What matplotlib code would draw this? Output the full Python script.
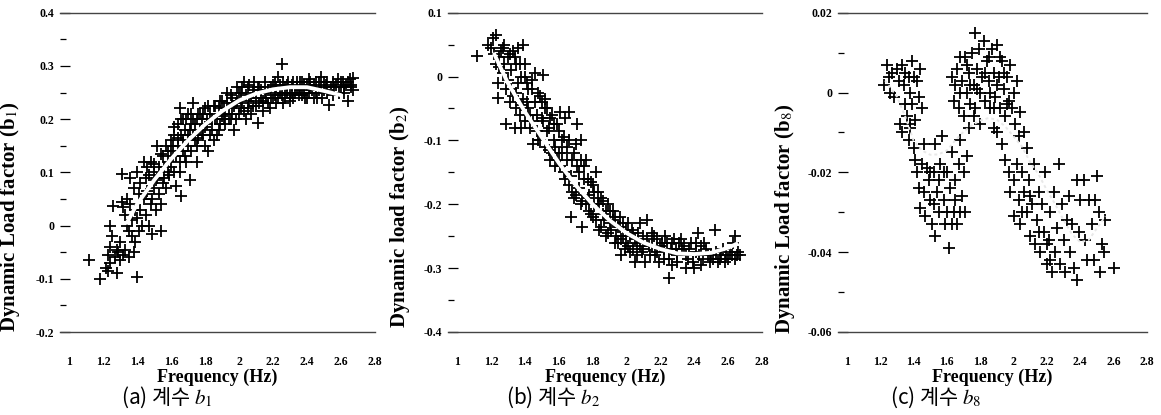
import numpy as np
import matplotlib
matplotlib.use("Agg")
import matplotlib.pyplot as plt
from matplotlib.ticker import MultipleLocator

plt.rcParams['mathtext.fontset'] = 'stix'

# (a) b1 : measured points (frequency, factor)
pts_b1 = [
    (1.12, -0.065), (1.18, -0.10), (1.22, -0.08), (1.23, -0.085), (1.23, -0.055), (1.24, -0.07),
    (1.24, -0.04), (1.25, -0.02), (1.24, 0.0), (1.26, 0.036), (1.27, -0.06), (1.28, -0.045),
    (1.28, -0.09), (1.29, -0.05), (1.30, -0.03), (1.30, -0.065), (1.31, 0.045), (1.31, 0.097),
    (1.32, 0.035), (1.32, -0.055), (1.33, 0.02), (1.33, -0.045), (1.34, 0.05), (1.34, 0.0),
    (1.35, -0.01), (1.35, -0.06), (1.36, 0.09), (1.36, 0.04), (1.37, -0.02), (1.37, 0.01),
    (1.38, 0.07), (1.38, -0.05), (1.39, 0.03), (1.39, -0.03), (1.40, -0.097), (1.40, 0.1),
    (1.40, 0.015), (1.41, 0.06), (1.41, -0.01), (1.42, 0.08), (1.42, 0.03), (1.43, 0.0),
    (1.44, 0.12), (1.44, 0.05), (1.45, 0.09), (1.45, 0.02), (1.46, 0.11), (1.46, 0.065),
    (1.47, 0.0), (1.48, 0.12), (1.48, 0.04), (1.49, -0.015), (1.50, 0.1), (1.50, 0.07),
    (1.51, 0.03), (1.52, 0.15), (1.52, 0.09), (1.53, 0.06), (1.54, -0.01), (1.54, 0.04),
    (1.55, 0.13), (1.55, 0.08), (1.56, 0.11), (1.57, 0.15), (1.57, 0.07), (1.58, 0.12),
    (1.59, 0.095), (1.60, 0.16), (1.60, 0.14), (1.61, 0.13), (1.62, 0.17), (1.62, 0.1),
    (1.63, 0.075), (1.64, 0.19), (1.64, 0.15), (1.65, 0.22), (1.65, 0.12), (1.66, 0.055),
    (1.66, 0.17), (1.67, 0.2), (1.67, 0.14), (1.68, 0.18), (1.69, 0.12), (1.70, 0.21),
    (1.70, 0.17), (1.71, 0.085), (1.72, 0.19), (1.72, 0.14), (1.73, 0.23), (1.73, 0.2),
    (1.74, 0.16), (1.75, 0.12), (1.76, 0.21), (1.77, 0.18), (1.78, 0.2), (1.79, 0.17),
    (1.80, 0.22), (1.80, 0.15), (1.81, 0.19), (1.82, 0.14), (1.83, 0.21), (1.84, 0.18),
    (1.85, 0.225), (1.86, 0.2), (1.87, 0.17), (1.88, 0.22), (1.89, 0.19), (1.90, 0.235),
    (1.91, 0.2), (1.92, 0.21), (1.93, 0.25), (1.94, 0.22), (1.95, 0.2), (1.96, 0.24),
    (1.97, 0.18), (1.98, 0.23), (1.99, 0.26), (2.00, 0.21), (2.01, 0.25), (2.02, 0.23),
    (2.03, 0.27), (2.04, 0.2), (2.05, 0.26), (2.06, 0.235), (2.07, 0.21), (2.08, 0.25),
    (2.09, 0.27), (2.10, 0.225), (2.11, 0.192), (2.12, 0.26), (2.13, 0.24), (2.14, 0.215),
    (2.15, 0.25), (2.17, 0.23), (2.19, 0.26), (2.20, 0.24), (2.21, 0.27), (2.22, 0.23),
    (2.23, 0.28), (2.24, 0.25), (2.25, 0.303), (2.26, 0.27), (2.27, 0.24), (2.28, 0.265),
    (2.30, 0.235), (2.31, 0.25), (2.32, 0.27), (2.34, 0.26), (2.36, 0.27), (2.37, 0.245),
    (2.38, 0.265), (2.40, 0.24), (2.41, 0.275), (2.42, 0.26), (2.44, 0.24), (2.45, 0.27),
    (2.47, 0.255), (2.48, 0.28), (2.49, 0.24), (2.50, 0.27), (2.51, 0.265), (2.52, 0.25),
    (2.53, 0.227), (2.55, 0.27), (2.56, 0.26), (2.58, 0.275), (2.60, 0.26), (2.61, 0.27),
    (2.62, 0.25), (2.63, 0.265), (2.64, 0.234), (2.65, 0.275), (2.66, 0.26), (2.67, 0.278),
    (2.67, 0.255),
    (1.45, 0.06), (1.47, 0.095), (1.49, 0.05), (1.5, 0.115), (1.51, 0.085), (1.53, 0.11),
    (1.54, 0.135), (1.56, 0.09), (1.58, 0.14), (1.58, 0.1), (1.6, 0.11), (1.61, 0.15),
    (1.62, 0.185), (1.63, 0.13), (1.64, 0.165), (1.65, 0.1), (1.66, 0.2), (1.67, 0.16),
    (1.68, 0.13), (1.69, 0.2), (1.7, 0.15), (1.71, 0.18), (1.72, 0.21), (1.73, 0.17),
    (1.74, 0.19), (1.75, 0.2), (1.75, 0.15), (1.76, 0.165), (1.77, 0.21), (1.78, 0.17),
    (1.79, 0.21), (1.8, 0.185), (1.81, 0.2), (1.82, 0.225), (1.83, 0.17), (1.84, 0.2),
    (1.85, 0.16), (1.86, 0.225), (1.87, 0.2), (1.88, 0.18), (1.89, 0.235), (1.9, 0.205),
    (1.91, 0.22), (1.92, 0.19), (1.93, 0.23), (1.94, 0.2), (1.95, 0.245), (1.96, 0.21),
    (1.97, 0.225), (1.98, 0.2), (1.99, 0.235), (2.0, 0.25), (2.01, 0.22), (2.02, 0.26),
    (2.03, 0.215), (2.04, 0.245), (2.05, 0.22), (2.06, 0.265), (2.07, 0.24), (2.08, 0.225),
    (2.09, 0.255), (2.1, 0.24), (2.11, 0.26), (2.12, 0.23), (2.13, 0.255), (2.14, 0.235),
    (2.15, 0.27), (2.16, 0.24), (2.17, 0.255), (2.18, 0.22), (2.19, 0.24), (2.2, 0.265),
    (2.21, 0.245), (2.22, 0.26), (2.23, 0.24), (2.24, 0.265), (2.25, 0.245), (2.26, 0.23),
    (2.27, 0.26), (2.28, 0.25), (2.29, 0.27), (2.3, 0.245), (2.31, 0.265), (2.32, 0.24),
    (2.33, 0.25), (2.34, 0.27), (2.35, 0.245), (2.36, 0.255), (2.37, 0.27), (2.38, 0.25),
    (2.39, 0.24), (2.4, 0.265), (2.41, 0.25), (2.42, 0.27), (2.43, 0.255), (2.44, 0.265),
    (2.45, 0.25), (2.46, 0.24), (2.47, 0.27), (2.48, 0.26), (2.5, 0.255), (2.52, 0.27),
    (2.54, 0.26), (2.55, 0.245), (2.57, 0.265), (2.59, 0.25), (2.6, 0.27), (2.62, 0.26),
    (2.64, 0.27), (2.66, 0.265),
]
fit_b1_x = [1.34, 1.4, 1.5, 1.6, 1.7, 1.8, 1.9, 2.0, 2.1, 2.2, 2.3, 2.4, 2.5, 2.6]
fit_b1_y = [0.005, 0.04, 0.085, 0.125, 0.16, 0.19, 0.215, 0.235, 0.248, 0.256, 0.26, 0.26, 0.253, 0.245]

# (b) b2
pts_b2 = [
    (1.12, 0.032), (1.18, 0.05), (1.2, 0.045), (1.21, 0.06), (1.22, 0.035), (1.23, 0.065),
    (1.23, 0.02), (1.24, -0.01), (1.24, -0.033), (1.25, 0.015), (1.26, 0.04), (1.27, 0.005),
    (1.28, 0.05), (1.29, -0.02), (1.29, -0.075), (1.30, 0.03), (1.31, -0.04), (1.32, 0.01),
    (1.33, 0.04), (1.33, -0.03), (1.34, -0.08), (1.35, 0.02), (1.35, -0.05), (1.36, 0.045),
    (1.36, -0.01), (1.37, -0.06), (1.38, 0.0), (1.38, -0.08), (1.39, 0.05), (1.39, -0.035),
    (1.40, 0.02), (1.40, -0.07), (1.41, -0.01), (1.42, -0.05), (1.43, -0.08), (1.44, -0.02),
    (1.45, -0.105), (1.46, 0.005), (1.47, -0.06), (1.48, -0.1), (1.49, -0.03), (1.50, -0.065),
    (1.51, 0.003), (1.52, -0.035), (1.52, -0.11), (1.53, -0.05), (1.54, -0.08), (1.55, -0.13),
    (1.56, -0.06), (1.57, -0.1), (1.58, -0.14), (1.59, -0.075), (1.60, -0.12), (1.61, -0.055),
    (1.62, -0.1), (1.63, -0.15), (1.64, -0.065), (1.65, -0.11), (1.66, -0.17), (1.66, -0.055),
    (1.67, -0.22), (1.68, -0.13), (1.69, -0.19), (1.70, -0.105), (1.71, -0.075), (1.72, -0.15),
    (1.73, -0.2), (1.73, -0.1), (1.74, -0.235), (1.75, -0.16), (1.76, -0.13), (1.77, -0.19),
    (1.78, -0.21), (1.79, -0.165), (1.80, -0.22), (1.81, -0.18), (1.82, -0.15), (1.83, -0.2),
    (1.84, -0.24), (1.85, -0.19), (1.86, -0.215), (1.88, -0.25), (1.89, -0.2), (1.90, -0.23),
    (1.92, -0.21), (1.93, -0.26), (1.95, -0.235), (1.96, -0.22), (1.97, -0.28), (1.98, -0.25),
    (2.0, -0.26), (2.01, -0.23), (2.02, -0.275), (2.04, -0.245), (2.05, -0.29), (2.06, -0.26),
    (2.08, -0.23), (2.09, -0.275), (2.10, -0.25), (2.11, -0.29), (2.12, -0.225), (2.13, -0.265),
    (2.15, -0.245), (2.17, -0.28), (2.18, -0.255), (2.20, -0.265), (2.22, -0.285), (2.23, -0.25),
    (2.25, -0.315), (2.26, -0.27), (2.27, -0.295), (2.28, -0.255), (2.30, -0.28), (2.31, -0.26),
    (2.33, -0.27), (2.35, -0.3), (2.36, -0.285), (2.38, -0.26), (2.40, -0.3), (2.41, -0.275),
    (2.42, -0.245), (2.44, -0.265), (2.45, -0.285), (2.47, -0.27), (2.49, -0.29), (2.50, -0.28),
    (2.52, -0.24), (2.53, -0.275), (2.55, -0.285), (2.57, -0.27), (2.59, -0.28), (2.61, -0.275),
    (2.63, -0.26), (2.64, -0.25), (2.65, -0.28), (2.67, -0.28),
    (1.25, 0.03), (1.27, 0.045), (1.28, 0.02), (1.3, -0.005), (1.31, 0.035), (1.32, -0.02),
    (1.34, 0.03), (1.35, -0.025), (1.37, 0.02), (1.38, -0.045), (1.4, 0.0), (1.41, -0.04),
    (1.42, -0.02), (1.43, -0.06), (1.44, -0.005), (1.45, -0.07), (1.46, -0.04), (1.47, -0.085),
    (1.48, -0.025), (1.49, -0.1), (1.5, -0.04), (1.51, -0.07), (1.52, -0.05), (1.53, -0.085),
    (1.54, -0.115), (1.55, -0.065), (1.56, -0.12), (1.57, -0.075), (1.58, -0.11), (1.59, -0.13),
    (1.6, -0.085), (1.61, -0.14), (1.62, -0.12), (1.63, -0.095), (1.64, -0.16), (1.65, -0.13),
    (1.66, -0.1), (1.67, -0.155), (1.68, -0.18), (1.69, -0.12), (1.7, -0.185), (1.71, -0.14),
    (1.72, -0.175), (1.73, -0.13), (1.74, -0.195), (1.75, -0.14), (1.76, -0.2), (1.77, -0.16),
    (1.78, -0.185), (1.79, -0.215), (1.8, -0.17), (1.81, -0.2), (1.82, -0.225), (1.83, -0.18),
    (1.84, -0.2), (1.85, -0.235), (1.86, -0.195), (1.87, -0.225), (1.88, -0.21), (1.89, -0.245),
    (1.9, -0.21), (1.91, -0.24), (1.92, -0.225), (1.93, -0.22), (1.94, -0.25), (1.95, -0.26),
    (1.96, -0.235), (1.97, -0.255), (1.98, -0.23), (1.99, -0.27), (2.0, -0.24), (2.01, -0.265),
    (2.02, -0.25), (2.03, -0.24), (2.04, -0.27), (2.05, -0.255), (2.06, -0.28), (2.07, -0.245),
    (2.08, -0.265), (2.1, -0.27), (2.12, -0.255), (2.14, -0.28), (2.15, -0.265), (2.16, -0.25),
    (2.18, -0.275), (2.19, -0.29), (2.21, -0.26), (2.22, -0.27), (2.24, -0.26), (2.25, -0.285),
    (2.27, -0.26), (2.29, -0.27), (2.3, -0.29), (2.32, -0.255), (2.34, -0.265), (2.35, -0.28),
    (2.37, -0.27), (2.39, -0.29), (2.41, -0.26), (2.43, -0.28), (2.44, -0.295), (2.46, -0.26),
    (2.48, -0.28), (2.51, -0.285), (2.54, -0.29), (2.56, -0.28), (2.58, -0.29), (2.6, -0.285),
    (2.62, -0.28), (2.64, -0.285), (2.66, -0.275),
]
fit_b2_x = [1.22, 1.3, 1.4, 1.5, 1.6, 1.7, 1.8, 1.9, 2.0, 2.1, 2.2, 2.3, 2.4, 2.5, 2.6, 2.65]
fit_b2_y = [0.035, -0.01, -0.055, -0.095, -0.135, -0.17, -0.2, -0.225, -0.245, -0.26, -0.27,
            -0.277, -0.278, -0.276, -0.268, -0.262]

# (c) b8
pts_b8 = [
    (1.22, 0.002), (1.24, 0.007), (1.25, 0.004), (1.26, 0.0), (1.27, 0.005), (1.28, -0.001),
    (1.3, 0.006), (1.31, 0.003), (1.32, -0.008), (1.33, 0.007), (1.33, -0.01), (1.34, 0.002),
    (1.35, 0.005), (1.35, -0.003), (1.36, -0.006), (1.37, 0.004), (1.38, 0.0), (1.38, -0.008),
    (1.39, 0.008), (1.39, -0.003), (1.40, 0.004), (1.41, -0.007), (1.42, 0.003), (1.43, -0.001),
    (1.44, 0.006), (1.45, -0.004), (1.46, -0.013), (1.37, -0.012), (1.38, -0.009),
    (1.4, -0.014), (1.41, -0.017), (1.42, -0.02), (1.43, -0.024), (1.44, -0.029), (1.45, -0.018),
    (1.46, -0.025), (1.47, -0.031), (1.48, -0.019), (1.49, -0.022), (1.50, -0.027), (1.51, -0.033),
    (1.52, -0.02), (1.53, -0.036), (1.53, -0.013), (1.54, -0.025), (1.55, -0.03), (1.56, -0.018),
    (1.57, -0.011), (1.58, -0.027), (1.59, -0.033), (1.60, -0.02), (1.61, -0.039), (1.62, -0.024),
    (1.63, -0.015), (1.64, -0.03), (1.65, -0.022), (1.66, -0.033), (1.67, -0.018), (1.68, -0.012),
    (1.69, -0.026), (1.70, -0.02), (1.71, -0.03), (1.72, -0.016), (1.73, -0.009),
    (1.63, 0.004), (1.64, -0.002), (1.65, 0.002), (1.66, 0.006), (1.67, -0.004), (1.68, 0.0),
    (1.69, 0.003), (1.70, -0.006), (1.71, 0.009), (1.72, 0.0), (1.73, 0.005), (1.74, -0.003),
    (1.75, 0.01), (1.76, 0.002), (1.77, 0.015), (1.77, -0.004), (1.78, 0.006), (1.79, 0.011),
    (1.80, 0.0), (1.80, -0.008), (1.81, 0.004), (1.82, 0.013), (1.83, -0.002), (1.84, 0.008),
    (1.85, 0.003), (1.86, -0.004), (1.87, 0.011), (1.88, 0.005), (1.89, -0.001), (1.9, 0.012),
    (1.91, 0.004), (1.92, -0.004), (1.93, 0.008), (1.94, 0.001), (1.95, -0.006), (1.96, 0.004),
    (1.97, -0.002), (1.98, 0.007), (1.99, -0.004), (2.0, 0.0), (2.01, -0.008), (2.02, 0.003),
    (2.03, -0.011), (2.04, -0.005), (2.06, -0.01), (2.08, -0.014),
    (1.88, -0.009), (1.9, -0.01), (1.93, -0.013), (1.95, -0.017), (1.97, -0.02), (1.98, -0.025),
    (2.0, -0.022), (2.0, -0.031), (2.02, -0.018), (2.03, -0.027), (2.04, -0.033), (2.05, -0.02),
    (2.06, -0.025), (2.08, -0.03), (2.09, -0.022), (2.1, -0.036), (2.11, -0.028), (2.12, -0.018),
    (2.13, -0.038), (2.14, -0.032), (2.15, -0.025), (2.16, -0.04), (2.17, -0.028), (2.18, -0.035),
    (2.19, -0.02), (2.2, -0.043), (2.21, -0.037), (2.22, -0.03), (2.23, -0.045), (2.24, -0.025),
    (2.25, -0.04), (2.26, -0.034), (2.27, -0.018), (2.28, -0.043), (2.29, -0.028), (2.30, -0.037),
    (2.31, -0.045), (2.32, -0.032), (2.33, -0.026), (2.34, -0.04), (2.35, -0.033), (2.36, -0.044),
    (2.38, -0.022), (2.38, -0.047), (2.39, -0.035), (2.40, -0.027), (2.42, -0.022), (2.43, -0.037),
    (2.44, -0.042), (2.45, -0.027), (2.47, -0.033), (2.48, -0.042), (2.49, -0.027), (2.50, -0.021),
    (2.51, -0.03), (2.52, -0.045), (2.53, -0.038), (2.54, -0.04), (2.55, -0.032), (2.60, -0.044),
    (1.68, 0.009), (1.72, 0.007), (1.74, 0.002), (1.76, -0.006), (1.78, 0.001), (1.83, 0.005),
    (1.85, 0.009), (1.86, 0.0), (1.88, -0.004), (1.9, 0.002), (1.92, 0.009), (1.94, 0.005),
    (1.96, -0.003), (1.5, -0.02), (1.52, -0.028), (1.55, -0.022), (1.58, -0.02), (1.6, -0.03),
    (1.63, -0.033), (1.65, -0.027), (1.68, -0.03), (2.05, -0.03), (2.1, -0.026), (2.15, -0.035),
    (2.2, -0.038), (2.22, -0.042),
]
fit_b8_x = [1.23, 1.3, 1.35, 1.4, 1.45, 1.5, 1.55, 1.6, 1.65, 1.7, 1.75, 1.8, 1.85, 1.9, 1.95,
            2.0, 2.05, 2.1, 2.15, 2.2, 2.25, 2.3, 2.35, 2.4, 2.45, 2.5, 2.55]
fit_b8_y = [0.003, -0.001, -0.006, -0.012, -0.0145, -0.0156, -0.0155, -0.0145, -0.012, -0.0098,
            -0.0082, -0.007, -0.0064, -0.0068, -0.0085, -0.011, -0.0135, -0.0175, -0.0205, -0.0245,
            -0.028, -0.032, -0.0355, -0.0375, -0.037, -0.034, -0.031]

freq_ticks = [1, 1.2, 1.4, 1.6, 1.8, 2, 2.2, 2.4, 2.6, 2.8]
freq_labels = ['1', '1.2', '1.4', '1.6', '1.8', '2', '2.2', '2.4', '2.6', '2.8']

panels = [
    dict(pts=pts_b1, fx=fit_b1_x, fy=fit_b1_y, ylim=(-0.2, 0.4), step=0.1,
         ylabel='Dynamic Load factor (b$_{1}$)', cap='(a) 계수 $b_1$', style='-',
         pos=[0.0517, 0.2, 0.2713, 0.7694], lab=(-0.12, 0.362), capx=167),
    dict(pts=pts_b2, fx=fit_b2_x, fy=fit_b2_y, ylim=(-0.4, 0.1), step=0.1,
         ylabel='Dynamic load factor (b$_{2}$)', cap='(b) 계수 $b_2$', style='-',
         pos=[0.3859, 0.2, 0.2705, 0.7694], lab=(-0.115, 0.362), capx=553),
    dict(pts=pts_b8, fx=fit_b8_x, fy=fit_b8_y, ylim=(-0.06, 0.02), step=0.02,
         ylabel='Dynamic Load factor (b$_{8}$)', cap='(c) 계수 $b_8$', style=(0, (1.5, 1.5)),
         pos=[0.7218, 0.2, 0.2661, 0.7694], lab=(-0.133, 0.355), capx=936),
]

fig = plt.figure(figsize=(11.61, 4.15), dpi=100)
serif = 'Liberation Serif'

for p in panels:
    ax = fig.add_axes(p['pos'])
    xy = np.array(p['pts'])
    ax.plot(xy[:, 0], xy[:, 1], '+', color='black', markersize=8, mew=1.3, zorder=2)
    if p['style'] == '-':
        ax.plot(p['fx'], p['fy'], color='white', lw=2.8, zorder=3, solid_capstyle='round')
    else:
        ax.plot(p['fx'], p['fy'], color='#e8e8e8', lw=1.4, ls=p['style'], zorder=3)

    ax.set_xlim(0.947, 2.8)
    ax.set_ylim(*p['ylim'])
    for s in ['left', 'right']:
        ax.spines[s].set_visible(False)
    for s in ['top', 'bottom']:
        ax.spines[s].set_color('#444444')
        ax.spines[s].set_linewidth(1.0)

    ax.set_xticks(freq_ticks)
    ax.set_xticklabels(freq_labels, fontfamily=serif, fontweight='bold', fontsize=8.5)
    ax.tick_params(axis='x', length=0, pad=17)

    lo, hi = p['ylim']
    yt = np.arange(lo, hi + p['step'] / 2, p['step'])
    ax.set_yticks(yt)
    ax.set_yticklabels(['{:g}'.format(round(v, 3) + 0.0) for v in yt],
                       fontfamily=serif, fontweight='bold', fontsize=8.5)
    ax.yaxis.set_minor_locator(MultipleLocator(p['step'] / 2))
    ax.tick_params(axis='y', which='major', direction='in', length=7, width=0.9, pad=4)
    ax.tick_params(axis='y', which='minor', direction='in', length=4, width=0.9)

    ax.set_xlabel('Frequency (Hz)', fontfamily=serif, fontweight='bold', fontsize=13, labelpad=1)
    ax.set_ylabel(p['ylabel'], fontfamily=serif, fontweight='bold', fontsize=15)
    ax.yaxis.set_label_coords(*p['lab'])

    fig.text(p['capx'] / 1161, 1 - 397 / 415, p['cap'], ha='center', va='center',
             fontsize=15, family=['Noto Sans CJK KR', 'DejaVu Sans'])

fig.savefig('out.png', dpi=100)
